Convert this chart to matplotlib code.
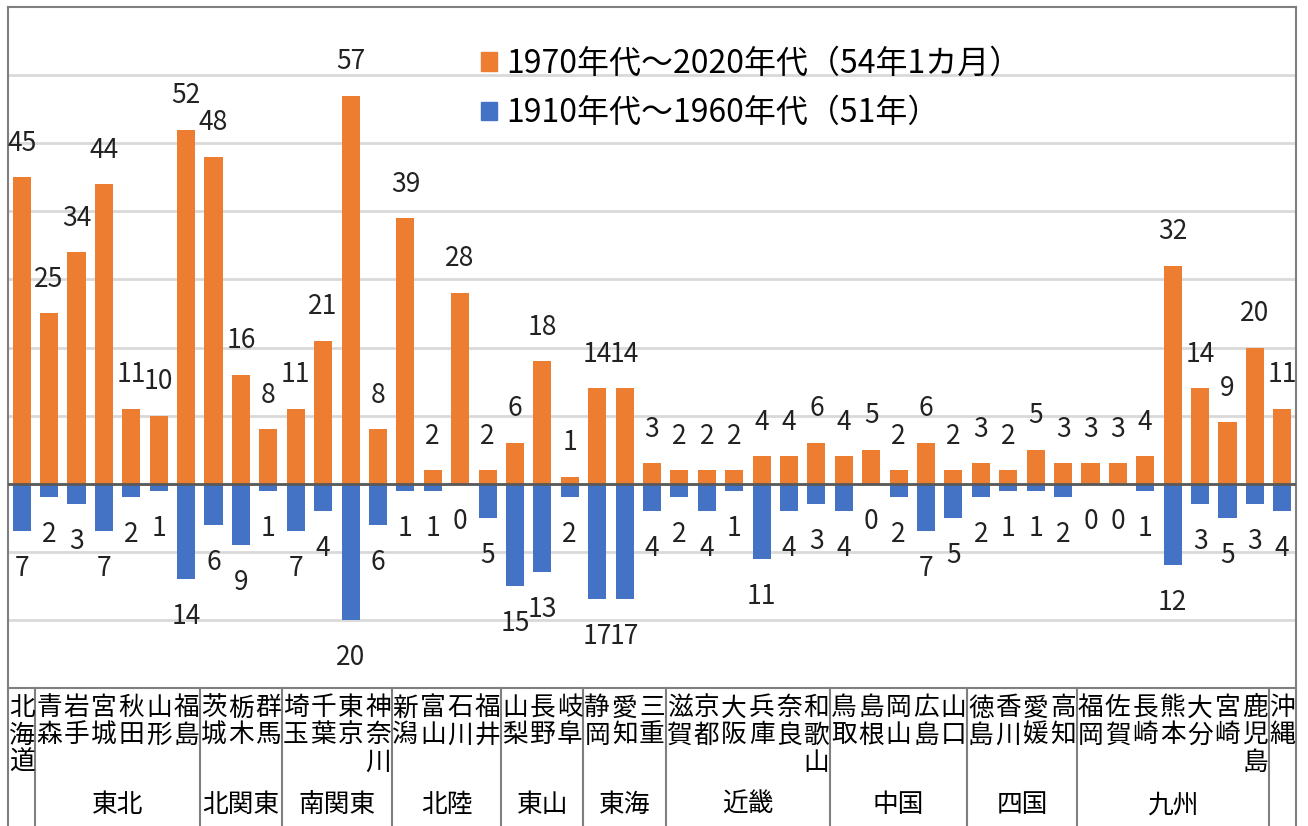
import numpy as np
import matplotlib.pyplot as plt
from matplotlib.patches import Patch

plt.rcParams['font.family'] = ['Noto Sans CJK JP', 'DejaVu Sans']

# prefectures (left to right) and region groups (first index, last index)
prefs = ['北海道', '青森', '岩手', '宮城', '秋田', '山形', '福島',
         '茨城', '栃木', '群馬', '埼玉', '千葉', '東京', '神奈川',
         '新潟', '富山', '石川', '福井', '山梨', '長野', '岐阜',
         '静岡', '愛知', '三重', '滋賀', '京都', '大阪', '兵庫', '奈良', '和歌山',
         '鳥取', '島根', '岡山', '広島', '山口', '徳島', '香川', '愛媛', '高知',
         '福岡', '佐賀', '長崎', '熊本', '大分', '宮崎', '鹿児島', '沖縄']
region_names = ['東北', '北関東', '南関東', '北陸', '東山', '東海', '近畿', '中国', '四国', '九州']
region_start = [1, 7, 10, 14, 18, 21, 24, 30, 35, 39]
region_end = [6, 9, 13, 17, 20, 23, 29, 34, 38, 45]

# counts
recent = [45, 25, 34, 44, 11, 10, 52, 48, 16, 8, 11, 21, 57, 8,
          39, 2, 28, 2, 6, 18, 1, 14, 14, 3, 2, 2, 2, 4, 4, 6,
          4, 5, 2, 6, 2, 3, 2, 5, 3, 3, 3, 4, 32, 14, 9, 20, 11]
early = [7, 2, 3, 7, 2, 1, 14, 6, 9, 1, 7, 4, 20, 6,
         1, 1, 0, 5, 15, 13, 2, 17, 17, 4, 2, 4, 1, 11, 4, 3,
         4, 0, 2, 7, 5, 2, 1, 1, 2, 0, 0, 1, 12, 3, 5, 3, 4]

label_recent = '1970年代～2020年代（54年1カ月）'
label_early = '1910年代～1960年代（51年）'

orange = '#ED7D31'
blue = '#4472C4'
edge = '#7f7f7f'

fig = plt.figure(figsize=(13.08, 8.26), dpi=100)
ax = fig.add_axes([8 / 1308, 138 / 826, 1288 / 1308, 681 / 826])

x = np.arange(len(prefs))
ax.bar(x, recent, width=0.66, color=orange, zorder=3)
ax.bar(x, [-v for v in early], width=0.66, color=blue, zorder=3)

ax.set_xlim(-0.5, len(prefs) - 0.5)
ax.set_ylim(-30, 70)
ax.set_yticks(range(-20, 70, 10))
ax.yaxis.grid(True, color='#d9d9d9', lw=2)
ax.set_axisbelow(True)
ax.axhline(0, color='#595959', lw=2, zorder=4)
ax.tick_params(left=False, bottom=False, labelleft=False, labelbottom=False)
for s in ax.spines.values():
    s.set_color(edge)
    s.set_linewidth(1.5)

# value labels
for i, (a, b) in enumerate(zip(recent, early)):
    ax.annotate(str(a), (i, a), xytext=(0, 24.5), textcoords='offset points',
                ha='center', va='center', fontsize=19, color='#222222')
    ax.annotate(str(b), (i, -b), xytext=(0, -27), textcoords='offset points',
                ha='center', va='center', fontsize=19, color='#222222')

# table under the chart
trans = ax.get_xaxis_transform()
for i, name in enumerate(prefs):
    for j, ch in enumerate(name):
        ax.text(i, -0.03 - j * 0.0397, ch, transform=trans, ha='center', va='center',
                fontsize=18.5, clip_on=False)

bounds = [-0.5, 0.5] + [e + 0.5 for e in region_end] + [len(prefs) - 0.5]
for b in bounds:
    ax.plot([b, b], [0, -0.25], transform=trans, color=edge, lw=1.5, clip_on=False)

for name, s, e in zip(region_names, region_start, region_end):
    ax.text((s + e) / 2, -0.172, name, transform=trans, ha='center', va='center',
            fontsize=18.5, clip_on=False)

handles = [Patch(color=orange, label=label_recent), Patch(color=blue, label=label_early)]
ax.legend(handles=handles, loc='upper left', bbox_to_anchor=(0.367, 0.94), frameon=False,
          fontsize=23, handlelength=0.5, handleheight=0.5, handletextpad=0.3,
          labelspacing=0.55, borderaxespad=0, borderpad=0)

fig.savefig('out.png', dpi=100)
